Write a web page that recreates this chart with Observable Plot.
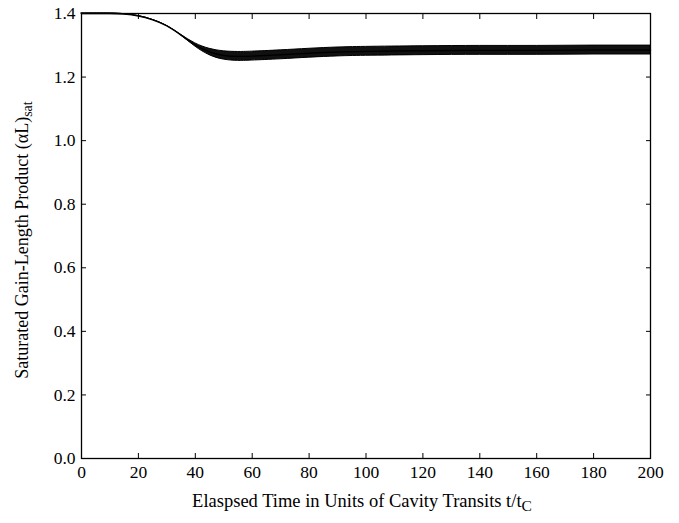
<!DOCTYPE html>
<html><head><meta charset="utf-8">
<script src="https://cdn.jsdelivr.net/npm/d3@7"></script>
<script src="https://cdn.jsdelivr.net/npm/@observablehq/plot@0.6"></script>
<style>body{margin:0;background:#fff} #chart{width:679px;height:523px}</style>
</head><body><div id="chart"></div>
<script>
// elapsed time t/tc
const time        = [0, 10, 15, 20, 25, 30, 35, 40, 45, 50, 55, 60, 70, 80, 90, 100, 120, 140, 160, 180, 200];
// mean saturated gain-length product
const gainCenter  = [1.400, 1.400, 1.398, 1.392, 1.380, 1.361, 1.332, 1.301, 1.279, 1.268, 1.265, 1.266, 1.270, 1.275, 1.279, 1.281, 1.283, 1.284, 1.284, 1.285, 1.285];
// half-height of the fast oscillation band
const oscHalfAmp  = [0, 0, 0, 0, 0, 0, 0.001, 0.005, 0.010, 0.013, 0.014, 0.014, 0.014, 0.014, 0.014, 0.014, 0.014, 0.014, 0.014, 0.014, 0.014];
const xTicks = [0, 20, 40, 60, 80, 100, 120, 140, 160, 180, 200];
const yTicks = [0.0, 0.2, 0.4, 0.6, 0.8, 1.0, 1.2, 1.4];
const xLabelMain = "Elaspsed Time in Units of Cavity Transits t/t";
const xLabelSub = "C";
const yLabelMain = "Saturated Gain-Length Product (\u03B1L)";
const yLabelSub = "sat";

const data = time.map((t, i) => ({t, c: gainCenter[i], lo: gainCenter[i] - oscHalfAmp[i], hi: gainCenter[i] + oscHalfAmp[i]}));
const font = "'Liberation Serif', 'Times New Roman', serif";

const plot = Plot.plot({
  width: 679, height: 523,
  marginLeft: 81, marginRight: 29, marginTop: 13, marginBottom: 65,
  style: {fontFamily: font, fontSize: "17.5px", background: "#fff", color: "#000"},
  x: {domain: [0, 200]},
  y: {domain: [0, 1.4]},
  marks: [
    Plot.areaY(data, {x: "t", y1: "lo", y2: "hi", fill: "#111", stroke: "#000", strokeWidth: 1, curve: "natural"}),
    Plot.line(data, {x: "t", y: "c", stroke: "#000", strokeWidth: 1.4, curve: "natural"}),
    Plot.frame({stroke: "#000", strokeWidth: 1.3}),
    Plot.axisX(xTicks, {anchor: "bottom", tickSize: -5, tickPadding: 12, label: null, tickFormat: d => String(d), fontSize: 17.5}),
    Plot.axisX(xTicks, {anchor: "top", tickSize: -5, label: null, tickFormat: () => ""}),
    Plot.axisY(yTicks, {anchor: "left", tickSize: -5, tickPadding: 11, label: null, tickFormat: d3.format(".1f"), fontSize: 17.5}),
    Plot.axisY(yTicks, {anchor: "right", tickSize: -5, label: null, tickFormat: () => ""})
  ]
});
document.getElementById("chart").appendChild(plot);

const svg = d3.select(plot);
const xl = svg.append("text")
  .attr("x", 362).attr("y", 507)
  .attr("text-anchor", "middle")
  .attr("font-family", font).attr("font-size", 18.5).attr("fill", "#000");
xl.append("tspan").text(xLabelMain);
xl.append("tspan").attr("dy", 4).attr("font-size", 15.5).text(xLabelSub);

const yl = svg.append("text")
  .attr("transform", "translate(28,240) rotate(-90)")
  .attr("text-anchor", "middle")
  .attr("font-family", font).attr("font-size", 18).attr("fill", "#000");
yl.append("tspan").text(yLabelMain);
yl.append("tspan").attr("dy", 4).attr("font-size", 14).text(yLabelSub);
</script>
</body></html>
